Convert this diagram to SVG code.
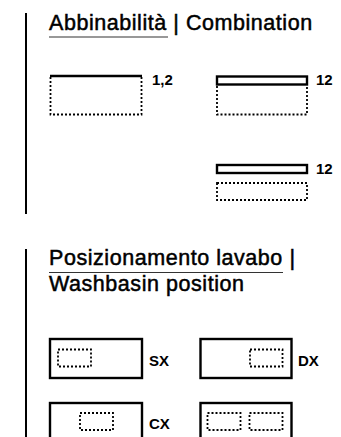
<svg xmlns="http://www.w3.org/2000/svg" width="341" height="437" viewBox="0 0 341 437">
<style>
.title{font-family:"Liberation Sans",Arial,sans-serif;font-size:21.5px;letter-spacing:0.55px;fill:#000;stroke:#000;stroke-width:0.5;paint-order:stroke}
.lbl{font-family:"Liberation Sans",Arial,sans-serif;font-size:15px;font-weight:bold;fill:#000}
.bar{fill:none;stroke:#000;stroke-width:2}
.solid{fill:none;stroke:#000;stroke-width:2.4}
.dot{fill:none;stroke:#000;stroke-width:1.8;stroke-dasharray:2 2}
.ul{stroke:#333;stroke-width:1.2}
</style>
<rect width="341" height="437" fill="#fff"/>
<g id="section-combination">
<line class="bar" x1="26" y1="13" x2="26" y2="214"/>
<text class="title" x="49" y="30">Abbinabilità | Combination</text>
<line class="ul" x1="49" y1="37" x2="168" y2="37"/>
</g>
<g id="combo-1">
<path class="dot" d="M50.5 77 V114.5 H141.5 V77"/>
<line class="solid" x1="50" y1="76" x2="142" y2="76"/>
<text class="lbl" x="152" y="85">1,2</text>
</g>
<g id="combo-2">
<path class="dot" d="M217 86 V114.5 H307 V86"/>
<rect class="solid" x="217" y="76.5" width="90" height="8"/>
<text class="lbl" x="316" y="85">12</text>
</g>
<g id="combo-3">
<rect class="solid" x="217" y="165" width="90" height="8"/>
<rect class="dot" x="217" y="183" width="90" height="17"/>
<text class="lbl" x="316" y="174">12</text>
</g>
<g id="section-position">
<line class="bar" x1="26" y1="249" x2="26" y2="437"/>
<text class="title" x="49" y="265">Posizionamento lavabo |</text>
<line class="ul" x1="49" y1="272.5" x2="283" y2="272.5"/>
<text class="title" x="49" y="291">Washbasin position</text>
</g>
<g id="pos-sx">
<rect class="solid" x="50" y="339" width="92" height="39"/>
<rect class="dot" x="58" y="349.5" width="33" height="17"/>
<text class="lbl" x="149" y="366">SX</text>
</g>
<g id="pos-dx">
<rect class="solid" x="200.5" y="339" width="91" height="39"/>
<rect class="dot" x="250" y="349.5" width="32.5" height="17"/>
<text class="lbl" x="298" y="366">DX</text>
</g>
<g id="pos-cx">
<rect class="solid" x="50" y="403" width="92" height="39"/>
<rect class="dot" x="80" y="413" width="33" height="17"/>
<text class="lbl" x="149" y="429">CX</text>
</g>
<g id="pos-double">
<rect class="solid" x="200.5" y="403" width="91" height="39"/>
<rect class="dot" x="207.5" y="413" width="33" height="17"/>
<rect class="dot" x="249.5" y="413" width="33" height="17"/>
</g>
</svg>
